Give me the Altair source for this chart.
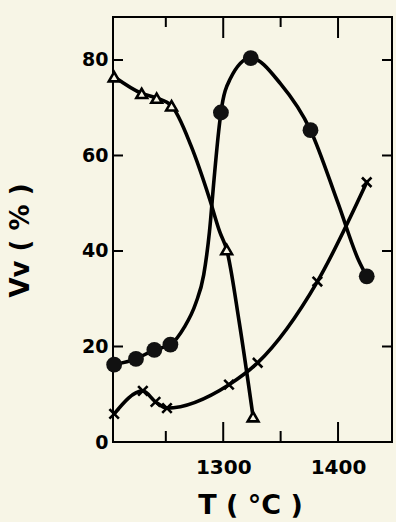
import altair as alt
import pandas as pd

# ---- data ----
tri_T = [1205, 1229, 1242, 1255, 1303, 1326]
tri_V = [76.5, 73.0, 72.0, 70.4, 40.3, 5.3]

circ_T = [1205, 1224, 1240, 1254, 1298, 1324, 1376, 1425]
circ_V = [16.2, 17.4, 19.3, 20.4, 69.0, 80.4, 65.3, 34.7]

cross_T = [1205, 1230, 1241, 1251, 1305, 1330, 1382, 1425]
cross_V = [5.9, 10.7, 8.4, 7.1, 12.0, 16.6, 33.6, 54.4]

# hand-drawn curve traces
circ_curve_T = [1205, 1224, 1240, 1254, 1266, 1276, 1283, 1288, 1292, 1296, 1298, 1306, 1324, 1350, 1376, 1400, 1418, 1425]
circ_curve_V = [16.2, 17.4, 19.3, 20.4, 24.0, 29.0, 35.0, 44.0, 55.0, 65.0, 69.0, 76.0, 80.4, 75.0, 65.3, 50.0, 38.0, 34.7]

tri_curve_T = [1205, 1229, 1242, 1255, 1272, 1288, 1297, 1303, 1314, 1326]
tri_curve_V = [76.5, 73.0, 72.0, 70.4, 62.0, 51.0, 44.0, 40.3, 25.0, 5.3]

cross_curve_T = cross_T
cross_curve_V = cross_V

x_major = [1300, 1400]
x_minor = [1250, 1350]
y_ticks = [20, 40, 60, 80]
y_labels = [0, 20, 40, 60, 80]

BG = "#f7f5e6"
FONT = "DejaVu Sans"

xs = alt.Scale(domain=[1204, 1447], nice=False, zero=False)
ys = alt.Scale(domain=[0, 89], nice=False, zero=True)

W, H = 279, 425

def df(T, V):
    return pd.DataFrame({"T": T, "V": V})

x_axis = alt.Axis(values=x_major, format="d", ticks=False, domain=False, grid=False,
                  labelFont=FONT, labelFontWeight="bold", labelFontSize=20, labelColor="black",
                  labelPadding=15, title="T ( °C )", titleFont=FONT, titleFontWeight="bold",
                  titleFontSize=27, titleColor="black", titleX=137, titleY=63,
                  titleBaseline="middle", titleAlign="center")
y_axis = alt.Axis(values=y_labels, format="d", ticks=False, domain=False, grid=False,
                  labelFont=FONT, labelFontWeight="bold", labelFontSize=19, labelColor="black",
                  labelPadding=5, title="Vv ( % )", titleFont=FONT, titleFontWeight="bold",
                  titleFontSize=26, titleColor="black", titleX=-93, titleY=223,
                  titleBaseline="middle", titleAlign="center", titleAngle=270)

def X(field):
    return alt.X(field, scale=xs, axis=x_axis)

def Y(field):
    return alt.Y(field, scale=ys, axis=y_axis)

line_style = dict(color="black", strokeWidth=3.6, interpolate="monotone", strokeCap="round")

circ_line = alt.Chart(df(circ_curve_T, circ_curve_V)).mark_line(**line_style).encode(
    x=X("T:Q"), y=Y("V:Q"))
tri_line = alt.Chart(df(tri_curve_T, tri_curve_V)).mark_line(**line_style).encode(
    x=X("T:Q"), y=Y("V:Q"))
cross_line = alt.Chart(df(cross_curve_T, cross_curve_V)).mark_line(**line_style).encode(
    x=X("T:Q"), y=Y("V:Q"))

circ_pts = alt.Chart(df(circ_T, circ_V)).mark_point(
    shape="circle", filled=True, color="#111111", size=250, opacity=1).encode(
    x=X("T:Q"), y=Y("V:Q"))
tri_pts = alt.Chart(df(tri_T, tri_V)).mark_point(
    shape="triangle-up", filled=True, fill=BG, stroke="black", strokeWidth=2.6,
    size=115, opacity=1).encode(
    x=X("T:Q"), y=Y("V:Q"))
cross_pts = alt.Chart(df(cross_T, cross_V)).mark_point(
    shape="M-1,-1L1,1M1,-1L-1,1", filled=False, stroke="black", strokeWidth=2.6,
    size=90, opacity=1).encode(
    x=X("T:Q"), y=Y("V:Q"))

tick_style = dict(color="black", strokeWidth=2)
tx_major = pd.DataFrame({"T": x_major})
tx_minor = pd.DataFrame({"T": x_minor})
ty = pd.DataFrame({"V": y_ticks})

bot_major = alt.Chart(tx_major).mark_rule(**tick_style).encode(
    x=X("T:Q"), y=alt.value(H), y2=alt.value(H - 20))
bot_minor = alt.Chart(tx_minor).mark_rule(**tick_style).encode(
    x=X("T:Q"), y=alt.value(H), y2=alt.value(H - 11))
top_major = alt.Chart(tx_major).mark_rule(**tick_style).encode(
    x=X("T:Q"), y=alt.value(0), y2=alt.value(21))
top_minor = alt.Chart(tx_minor).mark_rule(**tick_style).encode(
    x=X("T:Q"), y=alt.value(0), y2=alt.value(10))
left_ticks = alt.Chart(ty).mark_rule(**tick_style).encode(
    y=Y("V:Q"), x=alt.value(0), x2=alt.value(10))
right_ticks = alt.Chart(ty).mark_rule(**tick_style).encode(
    y=Y("V:Q"), x=alt.value(W), x2=alt.value(W - 10))

chart = alt.layer(
    circ_line, tri_line, cross_line,
    bot_major, bot_minor, top_major, top_minor, left_ticks, right_ticks,
    circ_pts, tri_pts, cross_pts,
).properties(
    width=W, height=H,
    background=BG,
    padding={"left": 113, "top": 17, "right": 4, "bottom": 80},
    autosize=alt.AutoSizeParams(type="none"),
).configure_view(
    stroke="black", strokeWidth=2, fill=BG
)

chart.save("out.html", embed_options={"renderer": "svg", "actions": False})
